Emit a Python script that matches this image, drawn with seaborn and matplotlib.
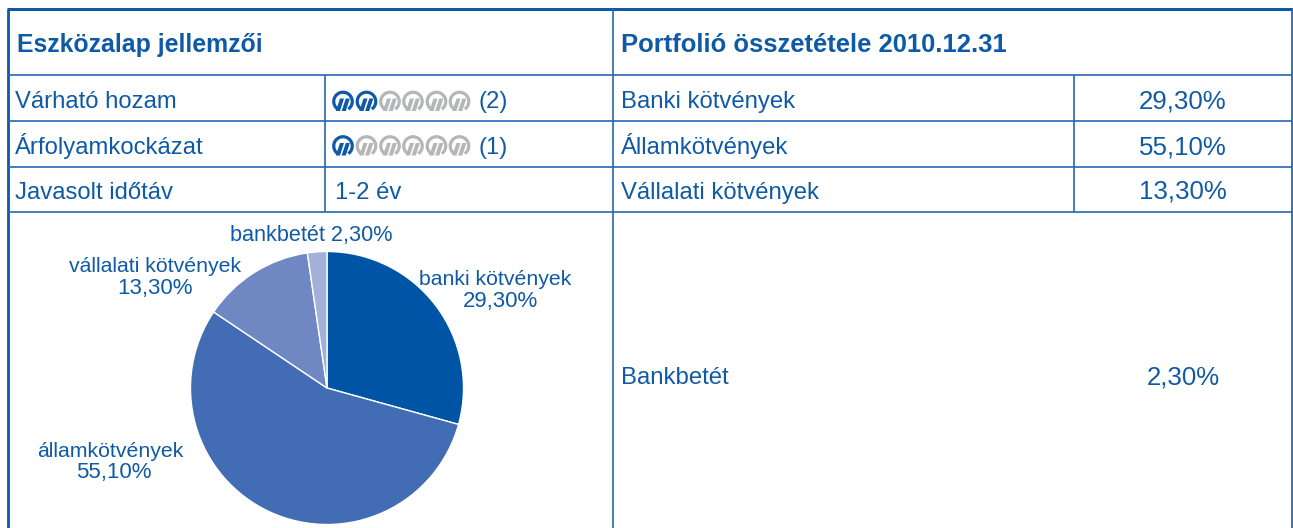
import matplotlib
matplotlib.use("Agg")
import matplotlib.pyplot as plt
import seaborn as sns
from matplotlib.patches import Arc, Polygon

W, H = 1293, 528
sns.set_theme(style="white")
plt.rcParams["font.family"] = ["Liberation Sans", "DejaVu Sans"]

pie_names = ["banki kötvények", "államkötvények", "vállalati kötvények"]
pie_pcts = ["29,30%", "55,10%", "13,30%"]
pie_small_label = "bankbetét 2,30%"
pie_values = [29.3, 55.1, 13.3, 2.3]
pie_colors = ["#0054A6", "#426CB4", "#6F87C2", "#A3B1D9"]
left_header = "Eszközalap jellemzői"
right_header = "Portfolió összetétele 2010.12.31"
char_names = ["Várható hozam", "Árfolyamkockázat", "Javasolt időtáv"]
char_ratings = [2, 1]
horizon = "1-2 év"
port_names = ["Banki kötvények", "Államkötvények", "Vállalati kötvények", "Bankbetét"]
port_values = ["29,30%", "55,10%", "13,30%", "2,30%"]

BLUE = "#0F5AA6"
LINE = "#2468AE"
GREY = "#B4B6B8"

fig = plt.figure(figsize=(W / 100, H / 100), dpi=100, facecolor="white")
ax = fig.add_axes([0, 0, 1, 1])
ax.set_xlim(0, W)
ax.set_ylim(H, 0)
ax.axis("off")

# grid
ax.plot([7, 1293], [9, 9], color=BLUE, lw=2.2, solid_capstyle="butt")
ax.plot([7.5, 7.5], [9, H], color=BLUE, lw=2.0, solid_capstyle="butt")
ax.plot([1291.5, 1291.5], [9, H], color=LINE, lw=1.3, solid_capstyle="butt")
for y in [75, 121, 167, 212]:
    ax.plot([7, 1292], [y, y], color=LINE, lw=1.2, solid_capstyle="butt")
ax.plot([612.5, 612.5], [9, H], color=LINE, lw=1.2, solid_capstyle="butt")
for x in [325, 1074]:
    ax.plot([x, x], [75, 212], color=LINE, lw=1.2, solid_capstyle="butt")

# headers
ax.text(17, 52, left_header, color=BLUE, fontsize=17.9, fontweight="bold", va="baseline", ha="left")
ax.text(621, 52, right_header, color=BLUE, fontsize=18.45, fontweight="bold", va="baseline", ha="left")

# rows
row_base = [108, 154, 199]
for y, name in zip(row_base, char_names):
    ax.text(15, y, name, color=BLUE, fontsize=17.2, va="baseline", ha="left")
ax.text(335, row_base[2], horizon, color=BLUE, fontsize=17.2, va="baseline", ha="left")
for y, name, val in zip(row_base, port_names[:3], port_values[:3]):
    ax.text(621, y, name, color=BLUE, fontsize=17.2, va="baseline", ha="left")
    ax.text(1183, y, val, color=BLUE, fontsize=18.6, va="baseline", ha="center")
ax.text(621, 384, port_names[3], color=BLUE, fontsize=17.2, va="baseline", ha="left")
ax.text(1183, 384, port_values[3], color=BLUE, fontsize=18.6, va="baseline", ha="center")


def icon(cx, cy, color):
    ax.add_patch(Arc((cx, cy), 18.5, 18.5, theta1=120, theta2=415, color=color, lw=2.3))
    for dx in (-4.6, 1.2):
        ax.add_patch(Polygon([[cx + dx - 2.6, cy + 9.5], [cx + dx + 1.6, cy + 9.5],
                              [cx + dx + 5.6, cy - 3.0], [cx + dx + 1.6, cy - 3.0]],
                             closed=True, fc=color, ec="none"))


icon_x = [343, 366.5, 390, 413, 436.5, 459.5]
for y, base, rating in zip([101.5, 146], [108, 154], char_ratings):
    for i, x in enumerate(icon_x):
        icon(x, y, BLUE if i < rating else GREY)
    ax.text(478, base, f"({rating})", color=BLUE, fontsize=17.2, va="baseline", ha="left")

# pie: centre (327, 388), radius 136 px
cx, cy, r = 327, 388, 136.5
pax = fig.add_axes([(cx - r) / W, 1 - (cy + r) / H, 2 * r / W, 2 * r / H])
pax.pie(pie_values, colors=pie_colors, startangle=90, counterclock=False, radius=1,
        wedgeprops={"edgecolor": "white", "linewidth": 1.0})
pax.set_xlim(-1, 1)
pax.set_ylim(-1, 1)
pax.patch.set_alpha(0)

name_pos = [(495, 285), (110.5, 457), (155, 272)]
pct_pos = [(500.5, 307), (114, 478), (155, 294)]
for (x, y), lab in zip(name_pos, pie_names):
    ax.text(x, y, lab, color=BLUE, fontsize=15.3, va="baseline", ha="center")
for (x, y), lab in zip(pct_pos, pie_pcts):
    ax.text(x, y, lab, color=BLUE, fontsize=16, va="baseline", ha="center")
ax.text(311, 241, pie_small_label, color=BLUE, fontsize=15.6, va="baseline", ha="center")

fig.savefig("out.png", dpi=100, facecolor="white")
